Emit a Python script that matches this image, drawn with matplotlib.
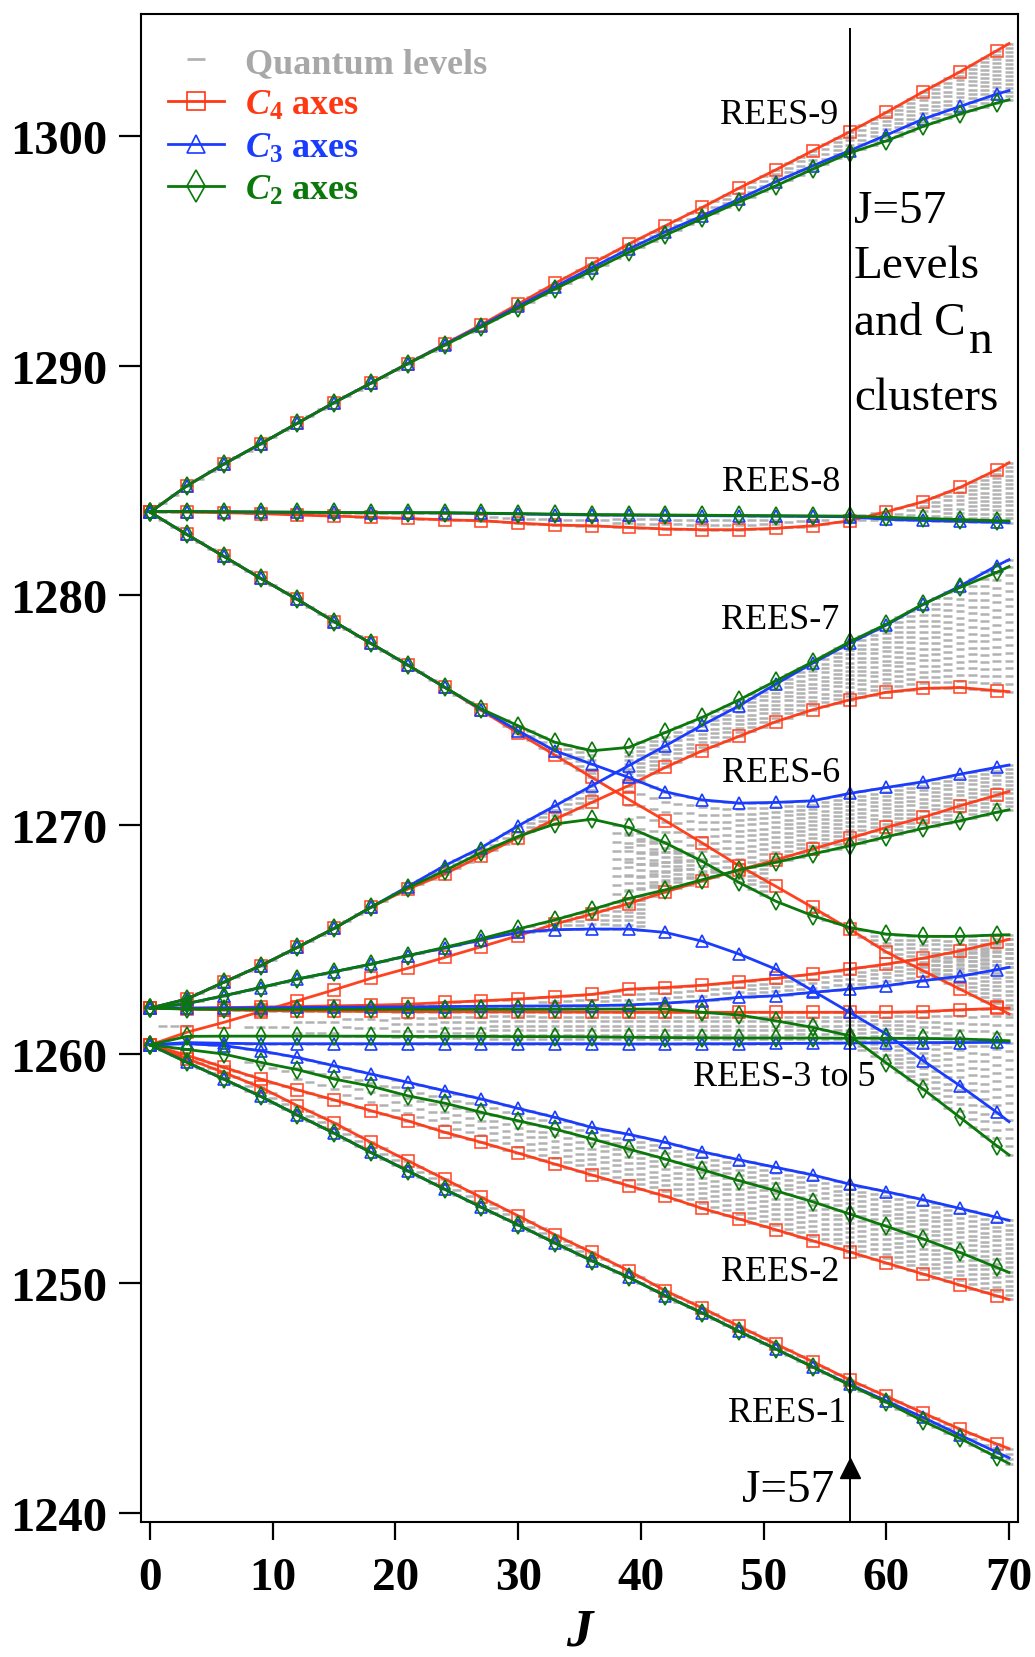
import numpy as np
import matplotlib
matplotlib.use('Agg')
import matplotlib.pyplot as plt
from matplotlib.collections import LineCollection
from matplotlib.lines import Line2D

plt.rcParams['font.family'] = ['Liberation Serif', 'DejaVu Serif']
plt.rcParams['mathtext.fontset'] = 'custom'
plt.rcParams['mathtext.rm'] = 'Liberation Serif:bold'
plt.rcParams['mathtext.it'] = 'Liberation Serif:italic:bold'
plt.rcParams['mathtext.bf'] = 'Liberation Serif:bold'
plt.rcParams['mathtext.sf'] = 'Liberation Serif'

# ---------------- data (J grid: every 3 up to 69, plus line end at 70) ----------------
J = np.array([0, 3, 6, 9, 12, 15, 18, 21, 24, 27, 30, 33, 36, 39, 42, 45, 48, 51, 54, 57, 60, 63, 66, 69, 70])

# C4 axes (red)
r9 = [1283.62, 1284.77, 1285.72, 1286.6, 1287.5, 1288.4, 1289.25, 1290.1, 1290.95, 1291.8, 1292.7, 1293.6, 1294.45, 1295.31, 1296.11, 1296.91, 1297.75, 1298.55, 1299.38, 1300.2, 1301.05, 1301.95, 1302.82, 1303.74, 1304.05]
r8 = [1283.65, 1283.63, 1283.6, 1283.56, 1283.5, 1283.45, 1283.4, 1283.35, 1283.29, 1283.25, 1283.15, 1283.06, 1283.03, 1282.96, 1282.89, 1282.86, 1282.86, 1282.92, 1283.03, 1283.25, 1283.64, 1284.08, 1284.7, 1285.47, 1285.78]
rD = [1283.62, 1282.65, 1281.7, 1280.74, 1279.82, 1278.85, 1277.9, 1276.96, 1275.99, 1274.98, 1273.99, 1273.03, 1272.06, 1271.1, 1270.17, 1269.2, 1268.21, 1267.31, 1266.39, 1265.45, 1264.45, 1263.63, 1262.83, 1262.03, 1261.75]
rS = [1262.0, 1262.4, 1263.13, 1263.85, 1264.65, 1265.48, 1266.4, 1267.19, 1267.85, 1268.64, 1269.44, 1270.24, 1270.97, 1271.7, 1272.5, 1273.22, 1273.85, 1274.49, 1275.01, 1275.44, 1275.77, 1275.94, 1275.98, 1275.84, 1275.8]
rR = [1260.4, 1260.95, 1261.38, 1261.85, 1262.32, 1262.8, 1263.3, 1263.74, 1264.21, 1264.68, 1265.16, 1265.67, 1266.1, 1266.56, 1267.07, 1267.55, 1268.03, 1268.46, 1268.94, 1269.4, 1269.88, 1270.32, 1270.82, 1271.29, 1271.45]
rU = [1262.0, 1262.0, 1262.02, 1262.05, 1262.07, 1262.1, 1262.13, 1262.17, 1262.25, 1262.32, 1262.4, 1262.5, 1262.6, 1262.83, 1262.9, 1263.0, 1263.15, 1263.3, 1263.49, 1263.7, 1263.92, 1264.18, 1264.5, 1264.87, 1265.0]
rF = [1262.0, 1261.97, 1261.93, 1261.9, 1261.88, 1261.87, 1261.86, 1261.85, 1261.85, 1261.84, 1261.84, 1261.83, 1261.83, 1261.82, 1261.82, 1261.82, 1261.82, 1261.82, 1261.82, 1261.82, 1261.82, 1261.85, 1261.93, 1261.99, 1262.0]
r2 = [1260.4, 1259.95, 1259.42, 1258.91, 1258.44, 1258.0, 1257.53, 1257.09, 1256.59, 1256.15, 1255.68, 1255.2, 1254.73, 1254.26, 1253.8, 1253.27, 1252.81, 1252.34, 1251.86, 1251.38, 1250.89, 1250.41, 1249.93, 1249.46, 1249.3]
r1 = [1260.4, 1259.8, 1259.2, 1258.55, 1257.75, 1257.0, 1256.15, 1255.35, 1254.55, 1253.75, 1252.95, 1252.12, 1251.35, 1250.55, 1249.68, 1248.93, 1248.13, 1247.36, 1246.59, 1245.8, 1245.08, 1244.35, 1243.65, 1243.0, 1242.8]

# C3 axes (blue)
b9 = [1283.62, 1284.77, 1285.72, 1286.6, 1287.5, 1288.4, 1289.25, 1290.1, 1290.93, 1291.75, 1292.6, 1293.45, 1294.28, 1295.09, 1295.85, 1296.54, 1297.27, 1298.03, 1298.72, 1299.38, 1300.06, 1300.76, 1301.31, 1301.85, 1302.0]
b8 = [1283.65, 1283.65, 1283.64, 1283.63, 1283.62, 1283.61, 1283.6, 1283.6, 1283.59, 1283.57, 1283.55, 1283.52, 1283.5, 1283.49, 1283.48, 1283.47, 1283.46, 1283.45, 1283.44, 1283.42, 1283.31, 1283.26, 1283.22, 1283.18, 1283.17]
bD = [1283.62, 1282.65, 1281.7, 1280.74, 1279.82, 1278.85, 1277.9, 1276.96, 1275.99, 1275.02, 1274.09, 1273.22, 1272.64, 1272.06, 1271.43, 1271.08, 1270.94, 1270.97, 1271.04, 1271.36, 1271.62, 1271.87, 1272.2, 1272.5, 1272.6]
bS = [1262.0, 1262.4, 1263.13, 1263.85, 1264.65, 1265.48, 1266.4, 1267.3, 1268.21, 1269.0, 1269.95, 1270.82, 1271.7, 1272.57, 1273.44, 1274.34, 1275.18, 1276.13, 1277.04, 1277.9, 1278.7, 1279.6, 1280.4, 1281.29, 1281.55]
bH = [1262.0, 1262.2, 1262.54, 1262.9, 1263.27, 1263.59, 1263.92, 1264.29, 1264.62, 1264.98, 1265.3, 1265.42, 1265.45, 1265.45, 1265.3, 1264.92, 1264.36, 1263.7, 1262.76, 1261.82, 1260.87, 1259.71, 1258.62, 1257.46, 1257.05]
bU = [1262.0, 1262.0, 1262.01, 1262.02, 1262.03, 1262.04, 1262.05, 1262.06, 1262.07, 1262.08, 1262.09, 1262.1, 1262.11, 1262.14, 1262.22, 1262.32, 1262.47, 1262.54, 1262.69, 1262.83, 1262.98, 1263.2, 1263.39, 1263.68, 1263.78]
bF = [1260.4, 1260.5, 1260.47, 1260.45, 1260.45, 1260.45, 1260.45, 1260.45, 1260.45, 1260.45, 1260.45, 1260.45, 1260.45, 1260.44, 1260.44, 1260.45, 1260.45, 1260.46, 1260.47, 1260.48, 1260.49, 1260.5, 1260.5, 1260.51, 1260.51]
b2 = [1260.4, 1260.45, 1260.37, 1260.14, 1259.85, 1259.49, 1259.13, 1258.77, 1258.4, 1258.04, 1257.63, 1257.24, 1256.8, 1256.5, 1256.15, 1255.74, 1255.39, 1255.06, 1254.73, 1254.33, 1254.0, 1253.65, 1253.27, 1252.88, 1252.75]
b1 = [1260.4, 1259.64, 1258.91, 1258.16, 1257.34, 1256.55, 1255.71, 1254.91, 1254.11, 1253.32, 1252.55, 1251.76, 1250.99, 1250.27, 1249.46, 1248.71, 1247.91, 1247.14, 1246.36, 1245.6, 1244.88, 1244.16, 1243.39, 1242.64, 1242.4]

# C2 axes (green)
g9 = [1283.62, 1284.77, 1285.72, 1286.6, 1287.5, 1288.4, 1289.25, 1290.1, 1290.9, 1291.7, 1292.52, 1293.35, 1294.15, 1294.95, 1295.7, 1296.43, 1297.15, 1297.85, 1298.58, 1299.28, 1299.81, 1300.44, 1300.98, 1301.46, 1301.6]
g8 = [1283.65, 1283.65, 1283.64, 1283.63, 1283.62, 1283.61, 1283.6, 1283.6, 1283.6, 1283.58, 1283.56, 1283.54, 1283.52, 1283.51, 1283.5, 1283.49, 1283.48, 1283.47, 1283.46, 1283.45, 1283.4, 1283.35, 1283.3, 1283.25, 1283.24]
gD = [1283.62, 1282.65, 1281.7, 1280.74, 1279.82, 1278.85, 1277.9, 1276.96, 1275.99, 1275.04, 1274.31, 1273.59, 1273.22, 1273.37, 1274.02, 1274.68, 1275.44, 1276.27, 1277.1, 1277.97, 1278.74, 1279.62, 1280.34, 1281.0, 1281.25]
gS = [1262.0, 1262.4, 1263.13, 1263.85, 1264.65, 1265.48, 1266.4, 1267.25, 1267.99, 1268.79, 1269.49, 1270.03, 1270.24, 1269.88, 1269.2, 1268.4, 1267.48, 1266.66, 1266.03, 1265.52, 1265.23, 1265.13, 1265.13, 1265.19, 1265.2]
gR = [1262.0, 1262.2, 1262.54, 1262.9, 1263.27, 1263.59, 1263.92, 1264.29, 1264.65, 1265.03, 1265.45, 1265.85, 1266.3, 1266.78, 1267.16, 1267.6, 1268.03, 1268.36, 1268.72, 1269.08, 1269.47, 1269.84, 1270.17, 1270.54, 1270.65]
gF = [1262.0, 1261.96, 1261.95, 1261.95, 1261.95, 1261.95, 1261.95, 1261.95, 1261.95, 1261.95, 1261.95, 1261.95, 1261.96, 1261.96, 1261.96, 1261.82, 1261.7, 1261.45, 1261.16, 1260.8, 1259.61, 1258.47, 1257.24, 1256.0, 1255.6]
gL = [1260.4, 1260.77, 1260.78, 1260.78, 1260.78, 1260.78, 1260.78, 1260.77, 1260.77, 1260.77, 1260.76, 1260.76, 1260.75, 1260.73, 1260.72, 1260.71, 1260.7, 1260.7, 1260.7, 1260.69, 1260.69, 1260.68, 1260.66, 1260.6, 1260.58]
g2 = [1260.4, 1260.2, 1260.0, 1259.64, 1259.32, 1258.91, 1258.6, 1258.18, 1257.86, 1257.46, 1257.09, 1256.73, 1256.3, 1255.86, 1255.42, 1254.96, 1254.48, 1254.04, 1253.56, 1253.03, 1252.49, 1251.94, 1251.35, 1250.7, 1250.48]
g1 = [1260.4, 1259.64, 1258.91, 1258.16, 1257.34, 1256.55, 1255.71, 1254.91, 1254.11, 1253.32, 1252.55, 1251.76, 1250.99, 1250.27, 1249.46, 1248.71, 1247.91, 1247.14, 1246.36, 1245.57, 1244.82, 1244.0, 1243.25, 1242.42, 1242.15]

red_curves = [r9, r8, rD, rS, rR, rU, rF, r2, r1]
blue_curves = [b9, b8, bD, bS, bH, bU, bF, b2, b1]
green_curves = [g9, g8, gD, gS, gR, gF, gL, g2, g1]

xticks = [0, 10, 20, 30, 40, 50, 60, 70]
yticks = [1240, 1250, 1260, 1270, 1280, 1290, 1300]

rees_labels = ['REES-9', 'REES-8', 'REES-7', 'REES-6', 'REES-3 to 5', 'REES-2', 'REES-1']

RED, BLUE, GREEN, GRAY = '#ff3814', '#1a3cff', '#0a780a', '#b2b2b2'

# ---------------- figure ----------------
fig = plt.figure(figsize=(10.35, 16.58), dpi=100)
ax = fig.add_axes([141/1035, 1 - 1523/1658, 877/1035, 1508/1658])
ax.set_xlim(-0.74, 70.73)
ax.set_ylim(1239.6, 1305.34)

# quantum levels: short dashes at each integer J filling each cluster band
A = lambda v: np.asarray(v, float)
bands = [
    (np.minimum(A(b1), A(g1)), A(r1), 0, 70),
    (A(r2), A(b2), 0, 70),
    (np.minimum(A(bF), A(gF)), np.maximum(A(rF), A(gL)), 0, 70),
    (A(bU), A(rU), 0, 70),
    (A(bH), A(gR), 0, 40),
    (A(gR), A(gS), 38, 50),
    (A(gS), A(rD), 54, 70),
    (np.minimum(A(rR), A(gR)), A(bD), 39, 70),
    (A(rS), A(bS), 0, 36),
    (A(rS), np.maximum(A(bS), A(gD)), 39, 70),
    (A(rD), A(gD), 0, 36),
    (np.minimum(A(r8), A(b8)), np.maximum(A(r8), A(g8)), 0, 70),
    (A(g9), A(r9), 0, 70),
]
Jint = np.arange(1, 71)
segs = []
for lo_a, hi_a, jmin, jmax in bands:
    lo_i = np.interp(Jint, J, lo_a)
    hi_i = np.interp(Jint, J, hi_a)
    for j, lo, hi in zip(Jint, lo_i, hi_i):
        if j < jmin or j > jmax:
            continue
        lo, hi = min(lo, hi), max(lo, hi)
        wpx = (hi - lo) * 22.94
        n = int(max(1, min(j // 4 + 1, wpx / 4.0 + 1)))
        ys = np.linspace(lo, hi, n) if n > 1 else [0.5 * (lo + hi)]
        for y in ys:
            segs.append([(j - 0.36, y), (j + 0.36, y)])
ax.add_collection(LineCollection(segs, colors=GRAY, linewidths=1.8, zorder=1))

mk = list(range(24))
for v in red_curves:
    ax.plot(J, v, color=RED, lw=2.0, marker='s', ms=8, mfc='none', mec=RED, mew=1.1,
            markevery=mk, zorder=3, alpha=0.95)
for v in blue_curves:
    ax.plot(J, v, color=BLUE, lw=2.0, marker='^', ms=9, mfc='none', mec=BLUE, mew=1.2,
            markevery=mk, zorder=4)
for v in green_curves:
    ax.plot(J, v, color=GREEN, lw=2.0, marker='d', ms=9, mfc='none', mec=GREEN, mew=1.2,
            markevery=mk, zorder=5)

# J = 57 marker line and arrow
ax.vlines(57, 1239.6, 1304.71, color='black', lw=1.4, zorder=6)
ax.plot([57], [1241.94], marker='^', ms=15, color='black', zorder=7)
ax.text(55.75, 1241.0, 'J=57', fontsize=34, ha='right', va='center', zorder=8)

# REES labels
ax.text(56.07, 1300.94, rees_labels[0], fontsize=26, ha='right', va='center', zorder=8)
ax.text(56.23, 1284.96, rees_labels[1], fontsize=26, ha='right', va='center', zorder=8)
ax.text(56.15, 1278.93, rees_labels[2], fontsize=26, ha='right', va='center', zorder=8)
ax.text(56.28, 1272.29, rees_labels[3], fontsize=26, ha='right', va='center', zorder=8)
ax.text(51.66, 1259.0, rees_labels[4], fontsize=26, ha='center', va='center', zorder=8)
ax.text(56.14, 1250.54, rees_labels[5], fontsize=26, ha='right', va='center', zorder=8)
ax.text(56.7, 1244.37, rees_labels[6], fontsize=26, ha='right', va='center', zorder=8)

# right annotation block
ax.text(57.36, 1296.27, 'J=57', fontsize=34, ha='left', va='baseline', zorder=8)
ax.text(57.36, 1293.87, 'Levels', fontsize=34, ha='left', va='baseline', zorder=8)
ax.text(57.36, 1291.39, 'and C', fontsize=34, ha='left', va='baseline', zorder=8)
ax.text(66.74, 1290.6, 'n', fontsize=34, ha='left', va='baseline', zorder=8)
ax.text(57.36, 1288.12, 'clusters', fontsize=34, ha='left', va='baseline', zorder=8)

# axes styling
ax.set_xticks(xticks)
ax.set_yticks(yticks)
ax.tick_params(axis='x', direction='out', length=13, width=1.6, pad=12, labelsize=34)
ax.tick_params(axis='y', direction='out', length=16, width=1.6, pad=8, labelsize=35)
for lab in ax.get_xticklabels() + ax.get_yticklabels():
    lab.set_fontweight('bold')
for s in ax.spines.values():
    s.set_linewidth(1.5)
fig.text(579.5/1035, 1 - 1633/1658, 'J', fontsize=38, fontweight='bold', fontstyle='italic',
         ha='center', va='center')

# legend
handles = [
    Line2D([], [], color=GRAY, marker='_', ms=13, mew=2, ls='none'),
    Line2D([], [], color=RED, lw=2.0, marker='s', ms=13, mfc='none', mec=RED, mew=1.2),
    Line2D([], [], color=BLUE, lw=2.0, marker='^', ms=13, mfc='none', mec=BLUE, mew=1.2),
    Line2D([], [], color=GREEN, lw=2.0, marker='d', ms=16, mfc='none', mec=GREEN, mew=1.2),
]
labels = ['Quantum levels', r'$C_4$ axes', r'$C_3$ axes', r'$C_2$ axes']
leg = ax.legend(handles, labels, loc='upper left', bbox_to_anchor=(0.014, 0.988), frameon=False,
                prop={'family': 'Liberation Serif', 'weight': 'bold', 'size': 26},
                handlelength=1.55, handletextpad=0.6, labelspacing=0.25, borderpad=0.4,
                borderaxespad=0.0)
for t, c in zip(leg.get_texts(), ['#a8a8a8', RED, BLUE, GREEN]):
    t.set_color(c)

fig.savefig('out.png', dpi=100)
